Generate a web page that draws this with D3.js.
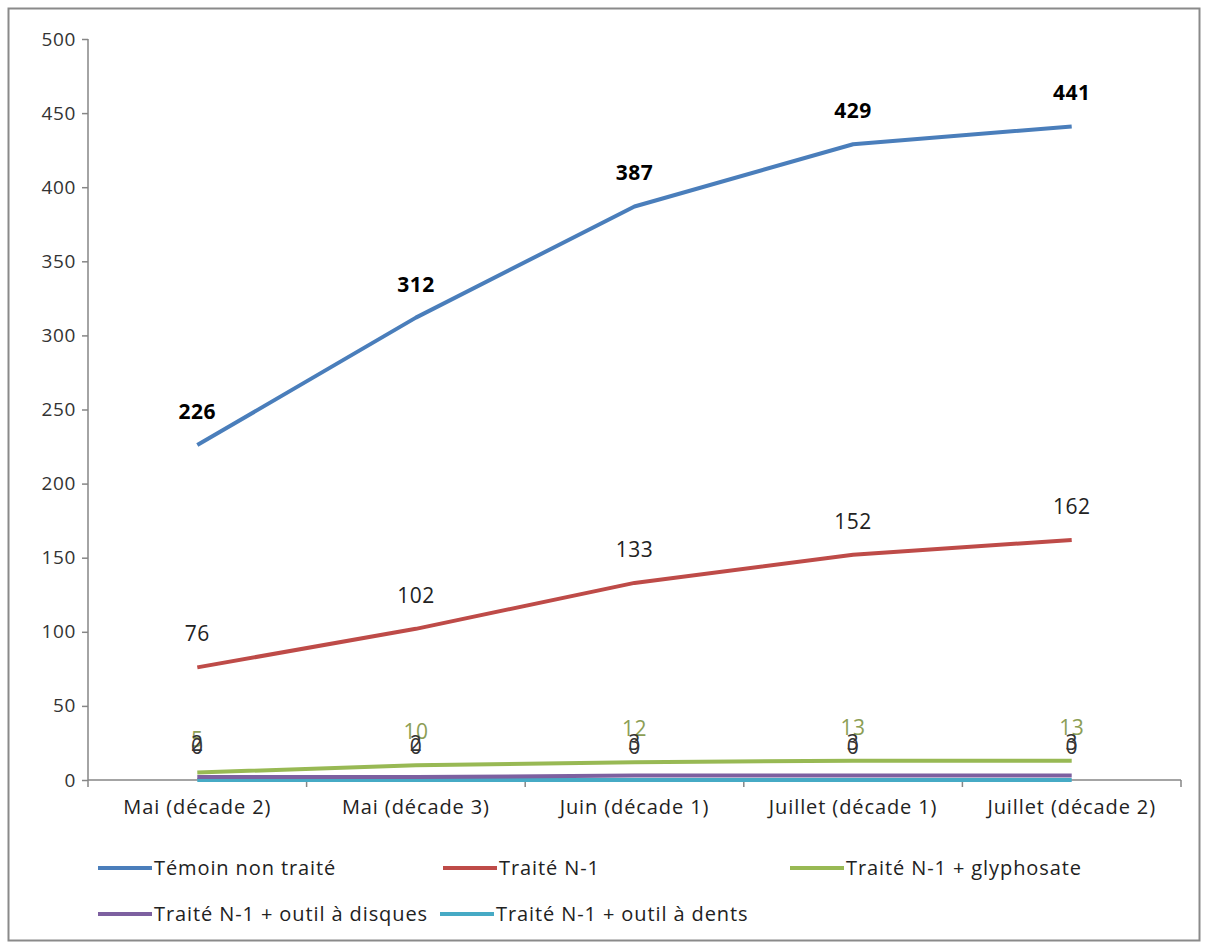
<!DOCTYPE html>
<html><head><meta charset="utf-8">
<script src="https://cdn.jsdelivr.net/npm/d3@7"></script>
<style>body{margin:0;background:#fff;} svg{display:block;} text{font-family:"Open Sans","Noto Sans",sans-serif;}</style>
</head><body>
<svg id="c" width="1206" height="946"></svg>
<script>
const categories = ["Mai (décade 2)","Mai (décade 3)","Juin (décade 1)","Juillet (décade 1)","Juillet (décade 2)"];
const temoin = [226,312,387,429,441];
const traite = [76,102,133,152,162];
const glypho = [5,10,12,13,13];
const disques = [2,2,3,3,3];
const dents = [0,0,0,0,0];
const seriesNames = ["Témoin non traité","Traité N-1","Traité N-1 + glyphosate","Traité N-1 + outil à disques","Traité N-1 + outil à dents"];
const yTicks = [0,50,100,150,200,250,300,350,400,450,500];

const series = [
  {name:seriesNames[0], values:temoin, color:"#4A7EBB", label:"#000", bold:true},
  {name:seriesNames[1], values:traite, color:"#BE4B48", label:"#222", bold:false},
  {name:seriesNames[2], values:glypho, color:"#98B954", label:"#8C9E55", bold:false},
  {name:seriesNames[3], values:disques, color:"#7D60A0", label:"#333", bold:false},
  {name:seriesNames[4], values:dents, color:"#46AAC5", label:"#333", bold:false}
];

const svg = d3.select("#c");
svg.append("rect").attr("x",8.5).attr("y",8.5).attr("width",1191).attr("height",932)
  .attr("fill","#fff").attr("stroke","#8a8a8a").attr("stroke-width",2);

const x = d3.scaleBand().domain(categories).range([88,1181]);
const y = d3.scaleLinear().domain([0,500]).range([780,39]);
const axisColor = "#868686";

const ya = svg.append("g").attr("transform","translate(88,0)")
  .call(d3.axisLeft(y).tickValues(yTicks).tickSize(6).tickPadding(6));
ya.selectAll("path,line").attr("stroke",axisColor).attr("stroke-width",1.5);
ya.select(".domain").attr("d","M0,39V780");
ya.selectAll("text").attr("font-size",19).attr("letter-spacing","0.6px").attr("fill","#333").attr("font-family","'Open Sans',sans-serif");

const xa = svg.append("g").attr("transform","translate(0,780)")
  .call(d3.axisBottom(x).tickSize(0).tickPadding(20));
xa.select(".domain").attr("stroke",axisColor).attr("stroke-width",1.5).attr("d","M88,0H1181");
xa.selectAll("text").attr("font-size",20).attr("letter-spacing","0.9px").attr("fill","#222").attr("font-family","'Open Sans',sans-serif");
// boundary ticks
const bounds = categories.map(c=>x(c)).concat([x.range()[1]]);
svg.append("g").selectAll("line").data(bounds).join("line")
  .attr("x1",d=>d).attr("x2",d=>d).attr("y1",780).attr("y2",787)
  .attr("stroke",axisColor).attr("stroke-width",1.5);

const line = d3.line().x((d,i)=>x(categories[i])+x.bandwidth()/2).y(d=>y(d));
[...series].reverse().forEach(s=>{
  svg.append("path").datum(s.values).attr("d",line).attr("fill","none")
    .attr("stroke",s.color).attr("stroke-width",4).attr("stroke-linejoin","round");
});
series.forEach(s=>{
  svg.append("g").selectAll("text").data(s.values).join("text")
    .attr("x",(d,i)=>x(categories[i])+x.bandwidth()/2)
    .attr("y",d=>y(d)-26)
    .attr("text-anchor","middle")
    .attr("font-size",21)
    .attr("letter-spacing","0.5px")
    .attr("font-weight",s.bold?"bold":"normal")
    .attr("fill",s.label)
    .text(d=>d);
});

// legend
const legendPos = [
  {x:98,y:868},{x:443,y:868},{x:790,y:868},{x:98,y:914},{x:440,y:914}
];
series.forEach((s,i)=>{
  const p = legendPos[i];
  svg.append("line").attr("x1",p.x).attr("x2",p.x+54).attr("y1",p.y).attr("y2",p.y)
    .attr("stroke",s.color).attr("stroke-width",4);
  svg.append("text").attr("x",p.x+56).attr("y",p.y+7).attr("font-size",20).attr("letter-spacing","0.9px").attr("fill","#222").text(s.name);
});
</script>
</body></html>
